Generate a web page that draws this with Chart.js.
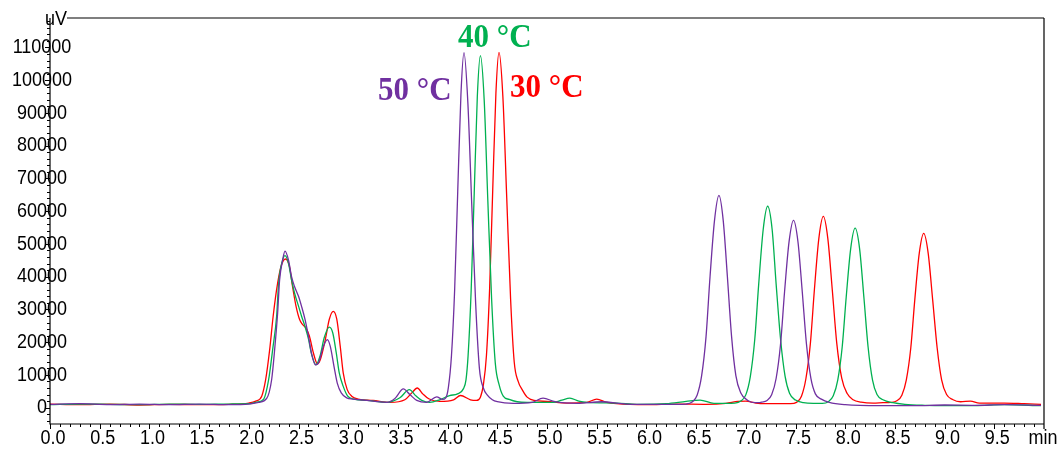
<!DOCTYPE html>
<html>
<head>
<meta charset="utf-8">
<script src="https://cdn.jsdelivr.net/npm/chart.js@4/dist/chart.umd.min.js"></script>
<style>
  body { margin: 0; background: #fff; }
  #wrap { width: 1061px; height: 450px; }
</style>
</head>
<body>
<div id="wrap"><canvas id="chromChart" width="1061" height="450"></canvas></div>
<script>
// retention time (min) and signal (uV)
const purpleTime = [0, 0.3, 0.6, 0.9, 1.2, 1.5, 1.8, 2.0, 2.1, 2.18, 2.23, 2.26, 2.29, 2.31, 2.34, 2.364, 2.40, 2.43, 2.46, 2.50, 2.53, 2.565, 2.60, 2.63, 2.67, 2.70, 2.75, 2.79, 2.82, 2.857, 2.89, 2.93, 2.985, 3.05, 3.12, 3.25, 3.39, 3.47, 3.555, 3.62, 3.69, 3.79, 3.89, 3.95, 3.98, 4.008, 4.039, 4.071, 4.102, 4.134, 4.165, 4.204, 4.243, 4.282, 4.32, 4.36, 4.40, 4.45, 4.5, 4.66, 4.85, 4.96, 5.08, 5.3, 5.55, 5.8, 6.1, 6.3, 6.40, 6.46, 6.51, 6.555, 6.60, 6.64, 6.685, 6.73, 6.773, 6.815, 6.857, 6.90, 6.95, 7.02, 7.1, 7.13, 7.16, 7.21, 7.26, 7.305, 7.35, 7.39, 7.435, 7.48, 7.525, 7.568, 7.61, 7.655, 7.70, 7.76, 7.84, 8.0, 8.35, 8.7, 9.0, 9.3, 9.6, 9.97];
const purpleUV = [1000, 1200, 900, 1100, 900, 1100, 900, 1100, 1600, 2800, 8600, 17700, 28900, 39000, 45000, 47800, 45000, 40000, 37000, 34000, 31000, 27000, 21800, 16700, 13100, 13600, 18700, 20800, 18700, 12600, 7500, 4500, 3000, 2600, 2400, 2000, 1600, 2800, 5700, 4000, 2200, 1600, 3300, 2500, 2900, 6200, 15900, 36100, 66100, 95500, 108400, 93000, 62000, 32000, 12000, 6000, 3800, 2400, 1800, 1300, 1600, 2900, 1800, 1300, 1800, 1100, 1000, 1000, 1100, 1700, 3800, 9600, 21700, 39900, 57100, 64800, 57100, 39900, 21700, 9800, 4500, 2200, 1500, 1500, 1700, 2100, 3900, 8900, 19500, 35400, 50600, 57200, 50600, 35400, 19500, 8900, 4200, 2600, 1600, 900, 600, 600, 800, 700, 900, 700];

const greenTime = [0, 0.3, 0.6, 0.9, 1.2, 1.5, 1.8, 2.0, 2.08, 2.15, 2.20, 2.24, 2.28, 2.30, 2.335, 2.364, 2.40, 2.43, 2.46, 2.50, 2.53, 2.565, 2.60, 2.63, 2.676, 2.716, 2.76, 2.81, 2.845, 2.88, 2.91, 2.95, 2.995, 3.06, 3.19, 3.39, 3.52, 3.615, 3.68, 3.74, 3.82, 3.92, 4.02, 4.10, 4.16, 4.185, 4.206, 4.237, 4.268, 4.299, 4.33, 4.368, 4.405, 4.443, 4.48, 4.52, 4.56, 4.62, 4.7, 4.80, 5.06, 5.15, 5.23, 5.32, 5.40, 5.7, 5.9, 6.2, 6.4, 6.54, 6.68, 6.89, 6.95, 7.00, 7.045, 7.09, 7.13, 7.175, 7.22, 7.265, 7.305, 7.35, 7.395, 7.44, 7.50, 7.58, 7.68, 7.77, 7.83, 7.88, 7.925, 7.97, 8.01, 8.055, 8.10, 8.145, 8.188, 8.23, 8.275, 8.32, 8.38, 8.48, 8.6, 8.8, 9.0, 9.3, 9.6, 9.97];
const greenUV = [900, 1100, 1000, 900, 1100, 1000, 1100, 1200, 1700, 2600, 8600, 17700, 27900, 38000, 44500, 46400, 44000, 39000, 35000, 31000, 28000, 24800, 21000, 16500, 13100, 15700, 21500, 24600, 22800, 16700, 10600, 6500, 3500, 2600, 2200, 1600, 3000, 5500, 3600, 2200, 1600, 2400, 3700, 4200, 5800, 8500, 15800, 35800, 65600, 95000, 107500, 94000, 63000, 33000, 13500, 6800, 3500, 2500, 1800, 1600, 1600, 2300, 2900, 2000, 1600, 1400, 1000, 1200, 1900, 2300, 1300, 1400, 2000, 3900, 9400, 20800, 37800, 54400, 61500, 54400, 37800, 20800, 9600, 4400, 2300, 1500, 1300, 1300, 1800, 3600, 8400, 18600, 33700, 48500, 54800, 48500, 33700, 18600, 8400, 4000, 2400, 1500, 1000, 700, 600, 600, 900, 600];

const redTime = [0, 0.3, 0.6, 0.9, 1.2, 1.5, 1.8, 2.0, 2.07, 2.13, 2.17, 2.21, 2.245, 2.29, 2.33, 2.37, 2.41, 2.44, 2.475, 2.51, 2.54, 2.575, 2.61, 2.65, 2.69, 2.72, 2.77, 2.81, 2.85, 2.885, 2.92, 2.95, 2.99, 3.035, 3.10, 3.25, 3.42, 3.57, 3.64, 3.695, 3.75, 3.81, 3.92, 4.06, 4.13, 4.23, 4.29, 4.33, 4.36, 4.391, 4.423, 4.454, 4.486, 4.517, 4.556, 4.595, 4.634, 4.67, 4.71, 4.75, 4.80, 4.87, 5.0, 5.2, 5.4, 5.5, 5.6, 5.7, 6.0, 6.3, 6.6, 6.8, 6.92, 7.0, 7.1, 7.2, 7.45, 7.51, 7.56, 7.605, 7.65, 7.69, 7.735, 7.78, 7.825, 7.87, 7.915, 7.965, 8.02, 8.08, 8.16, 8.28, 8.38, 8.46, 8.52, 8.57, 8.615, 8.66, 8.70, 8.745, 8.79, 8.835, 8.88, 8.925, 8.97, 9.02, 9.08, 9.16, 9.26, 9.35, 9.6, 9.8, 9.97];
const redUV = [1100, 900, 1100, 800, 1000, 900, 1000, 1400, 2000, 3500, 8600, 17700, 27900, 38000, 43700, 45400, 43000, 37000, 31000, 27000, 25400, 24300, 21800, 16700, 13400, 14700, 20800, 27000, 29400, 27000, 18700, 10600, 5500, 3500, 2600, 2200, 1600, 2400, 4500, 6000, 4200, 2700, 1900, 2400, 3700, 2400, 2200, 3200, 7000, 16000, 36500, 66500, 96000, 108500, 95000, 64000, 33000, 14000, 8000, 5500, 3200, 2200, 1900, 1400, 1600, 2600, 1600, 1200, 900, 1100, 1000, 1300, 1900, 2000, 1400, 1200, 1200, 1600, 3500, 8900, 19700, 36000, 51700, 58400, 51700, 36000, 19700, 9000, 4300, 2400, 1700, 1400, 1500, 1600, 2100, 3800, 8500, 18300, 32900, 47100, 53200, 47100, 32900, 18300, 8500, 4000, 2500, 1800, 2000, 1400, 1400, 1200, 1000];

const xTickLabels = ['0.0', '0.5', '1.0', '1.5', '2.0', '2.5', '3.0', '3.5', '4.0', '4.5', '5.0', '5.5', '6.0', '6.5', '7.0', '7.5', '8.0', '8.5', '9.0', '9.5'];
const yTickValues = [0, 10000, 20000, 30000, 40000, 50000, 60000, 70000, 80000, 90000, 100000, 110000];

const seriesNames = ['50 °C', '40 °C', '30 °C'];
const seriesColors = ['#7030A0', '#00B050', '#FF0000'];

function toPoints(times, values) {
    return times.map((t, i) => ({ x: t, y: values[i] }));
}

// text in the original is a little taller than wide
function tallText(ctx, text, x, y, sy) {
    ctx.save();
    ctx.translate(x, y);
    ctx.scale(1, sy);
    ctx.fillText(text, 0, 0);
    ctx.restore();
}

// axis frame, ticks and text drawn on top of the chart area
const framePlugin = {
    id: 'frame',
    afterDraw(chart) {
        const ctx = chart.ctx;
        const a = chart.chartArea;
        const xs = chart.scales.x;
        const ys = chart.scales.y;
        ctx.save();

        ctx.strokeStyle = '#555';
        ctx.lineWidth = 1.5;
        ctx.beginPath();
        ctx.moveTo(67, a.top);
        ctx.lineTo(a.right, a.top);
        ctx.stroke();

        ctx.strokeStyle = '#000';
        ctx.lineWidth = 1.2;
        ctx.beginPath();
        ctx.moveTo(a.left, a.top);
        ctx.lineTo(a.left, a.bottom);
        ctx.lineTo(a.right, a.bottom);
        ctx.moveTo(a.right, a.top);
        ctx.lineTo(a.right, a.bottom + 5);
        ctx.stroke();

        // x ticks every 0.1 min, longer every 0.5
        ctx.lineWidth = 1;
        ctx.beginPath();
        for (let i = 0; i < 100; i++) {
            const px = Math.round(xs.getPixelForValue(i / 10)) + 0.5;
            ctx.moveTo(px, a.bottom);
            ctx.lineTo(px, a.bottom + (i % 5 === 0 ? 5 : 3));
        }
        // y ticks every 2000 uV, longer every 10000
        for (let v = -4000; v <= 118000; v += 2000) {
            const py = Math.round(ys.getPixelForValue(v)) + 0.5;
            ctx.moveTo(a.left, py);
            ctx.lineTo(a.left - (v % 10000 === 0 ? 5 : 3), py);
        }
        ctx.stroke();

        ctx.fillStyle = '#000';
        ctx.font = '18px "Liberation Sans", Arial, sans-serif';
        ctx.textBaseline = 'middle';
        ctx.textAlign = 'center';
        xTickLabels.forEach(lbl => {
            tallText(ctx, lbl, xs.getPixelForValue(parseFloat(lbl)) + 3, 438, 1.15);
        });
        tallText(ctx, 'min', 1043, 438, 1.15);
        yTickValues.forEach(v => {
            tallText(ctx, String(v), 42, ys.getPixelForValue(v), 1.15);
        });
        ctx.textAlign = 'left';
        ctx.textBaseline = 'alphabetic';
        tallText(ctx, 'uV', 45, 25, 1.1);

        // temperature labels
        ctx.font = 'bold 31px "Liberation Serif", "Times New Roman", serif';
        ctx.fillStyle = seriesColors[0];
        tallText(ctx, seriesNames[0], 378, 100, 1.08);
        ctx.fillStyle = seriesColors[1];
        tallText(ctx, seriesNames[1], 458, 47, 1.08);
        ctx.fillStyle = seriesColors[2];
        tallText(ctx, seriesNames[2], 510, 97, 1.08);
        ctx.restore();
    }
};

document.addEventListener("DOMContentLoaded", function() {
    const ctx = document.getElementById('chromChart').getContext('2d');

    const makeSet = (i, times, values) => ({
        label: seriesNames[i],
        data: toPoints(times, values),
        borderColor: seriesColors[i],
        borderWidth: 1.3,
        pointRadius: 0,
        fill: false,
        cubicInterpolationMode: 'monotone',
        order: i
    });

    new Chart(ctx, {
        type: 'line',
        data: {
            datasets: [
                makeSet(0, purpleTime, purpleUV),
                makeSet(1, greenTime, greenUV),
                makeSet(2, redTime, redUV)
            ]
        },
        options: {
            responsive: false,
            animation: false,
            devicePixelRatio: 1,
            layout: {
                padding: { left: 50, right: 17, top: 18, bottom: 26 }
            },
            plugins: {
                legend: { display: false },
                tooltip: { enabled: false }
            },
            scales: {
                x: { type: 'linear', min: 0, max: 10, display: false },
                y: { type: 'linear', min: -5000, max: 119000, display: false }
            }
        },
        plugins: [framePlugin]
    });
});
</script>
</body>
</html>
